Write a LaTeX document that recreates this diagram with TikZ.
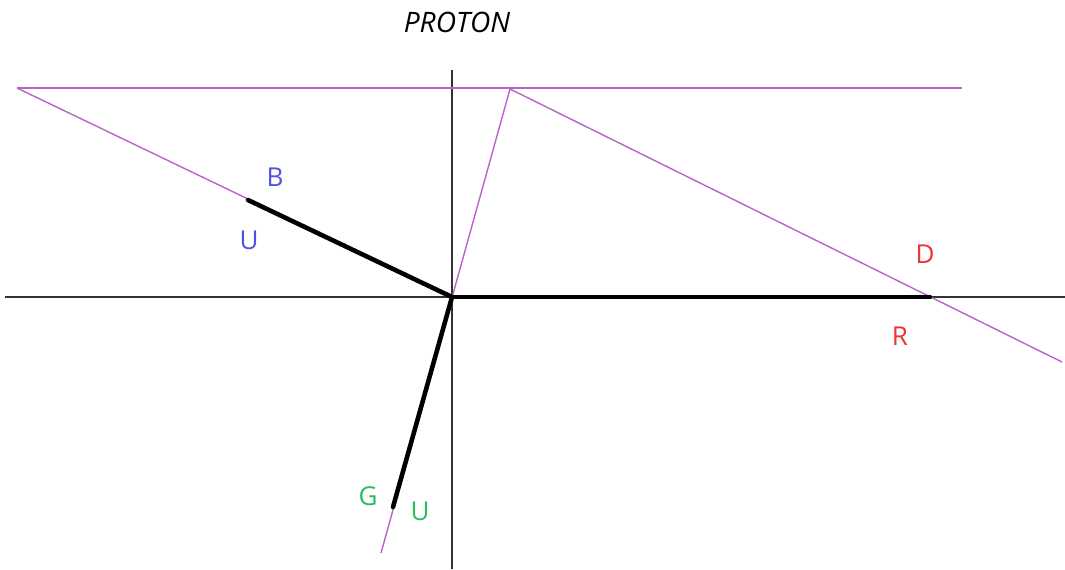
\documentclass[tikz,border=0pt]{standalone}
\usepackage{fontspec}
\setmainfont{Open Sans}
\definecolor{quarkline}{RGB}{185,100,200}
\definecolor{quarkblue}{RGB}{80,80,225}
\definecolor{quarkred}{RGB}{240,50,50}
\definecolor{quarkgreen}{RGB}{40,190,95}
\begin{document}
\begin{tikzpicture}[
  x=0.01cm,y=-0.01cm,
  axis/.style={draw=black!80,line width=0.45pt},
  guide/.style={draw=quarkline,line width=0.4pt},
  quark/.style={draw=black,line width=1.3pt,line cap=round},
  lbl/.style={font=\fontsize{7.4}{9}\selectfont,inner sep=0pt}
]
  \useasboundingbox (0,0) rectangle (1065,569);
  \coordinate (origin) at (452,297);
  \coordinate (xleft) at (5,297);
  \coordinate (xright) at (1065,297);
  \coordinate (ytop) at (452,70);
  \coordinate (ybot) at (452,569);
  \coordinate (topleft) at (17,88);
  \coordinate (topright) at (962,88);
  \coordinate (apex) at (510,89);
  \coordinate (lowright) at (1062,362);
  \coordinate (lowend) at (381,553);
  \coordinate (bend) at (248,200);
  \coordinate (rend) at (930,297);
  \coordinate (gend) at (393,507);

  % axes
  \draw[axis] (xleft) -- (xright);
  \draw[axis] (ytop) -- (ybot);

  % construction lines
  \draw[guide] (topleft) -- (topright);
  \draw[guide] (topleft) -- (origin);
  \draw[guide] (lowend) -- (apex) -- (lowright);

  % quark vectors
  \draw[quark] (origin) -- (bend);
  \draw[quark] (origin) -- (rend);
  \draw[quark] (origin) -- (gend);

  % labels
  \node[lbl,font=\fontsize{8}{10}\selectfont\itshape] (title) at (457,22) {PROTON};
  \node[lbl,text=quarkblue] (bcol) at (275,177) {B};
  \node[lbl,text=quarkblue] (bflav) at (249,240) {U};
  \node[lbl,text=quarkred] (rcol) at (925,254) {D};
  \node[lbl,text=quarkred] (rflav) at (900,336) {R};
  \node[lbl,text=quarkgreen] (gcol) at (368,496) {G};
  \node[lbl,text=quarkgreen] (gflav) at (420,511) {U};
\end{tikzpicture}
\end{document}
